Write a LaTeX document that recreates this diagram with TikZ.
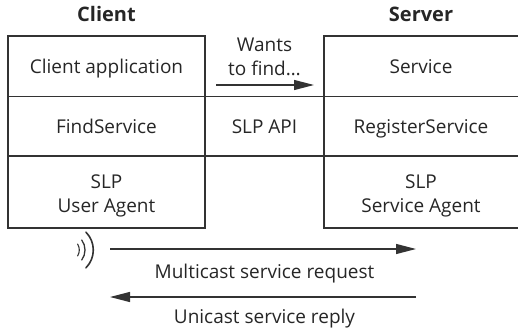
\documentclass[tikz,border=0pt]{standalone}
\usepackage{fontspec}
\setmainfont{Open Sans}
\usetikzlibrary{arrows.meta}
\definecolor{ink}{HTML}{262626}
\definecolor{rule}{HTML}{333333}
\begin{document}
\begin{tikzpicture}[x=1pt,y=-1pt,
    lbl/.style={inner sep=0pt,anchor=base,text=ink,font=\fontsize{19}{23}\selectfont},
    head/.style={inner sep=0pt,anchor=base,text=ink,font=\fontsize{20}{24}\selectfont\bfseries},
    grid/.style={draw=rule,line width=1.2pt},
    msg/.style={draw=rule,line width=1.2pt,-{Triangle[length=20pt,width=10pt]}},
    wave/.style={draw=rule,line cap=round}]
  \useasboundingbox (0,0) rectangle (518,334);

  % column headings
  \node[head] (hcl) at (106.5,22) {Client};
  \node[head] (hsv) at (421,22) {Server};

  % protocol stack grid (server side runs off to the right)
  \draw[grid] (8,36) rectangle (205,228);
  \draw[grid] (518,36) -- (324,36) -- (324,228) -- (518,228);
  \draw[grid] (8,96.5) -- (518,96.5);
  \draw[grid] (8,156) -- (518,156);

  % client column
  \node[lbl] (capp) at (106.5,74) {Client application};
  \node[lbl] (find) at (106.5,133) {FindService};
  \node[lbl] (ua1)  at (106.5,188) {SLP};
  \node[lbl] (ua2)  at (106.5,212) {User Agent};

  % middle column
  \node[lbl] (w1)  at (264.5,52) {Wants};
  \node[lbl] (w2)  at (264.5,76) {to find\ldots};
  \node[lbl] (api) at (264.5,133) {SLP API};

  % server column
  \node[lbl] (svc) at (421,74) {Service};
  \node[lbl] (reg) at (421,133) {RegisterService};
  \node[lbl] (sa1) at (421,188) {SLP};
  \node[lbl] (sa2) at (421,212) {Service Agent};

  % "wants to find" arrow
  \coordinate (wa) at (216,85);
  \coordinate (wb) at (314,85);
  \draw[msg] (wa) -- (wb);

  % broadcast symbol
  \coordinate (wv) at (68,250);
  \draw[wave,line width=1.1pt] (wv) ++(32:11.3pt) arc[start angle=32,end angle=-32,radius=11.3pt];
  \draw[wave,line width=1.3pt] (wv) ++(36:17pt) arc[start angle=36,end angle=-36,radius=17pt];
  \draw[wave,line width=1.6pt] (wv) ++(45:25.3pt) arc[start angle=45,end angle=-45,radius=25.3pt];

  % network messages
  \coordinate (mL) at (110,249);
  \coordinate (mR) at (416,249);
  \coordinate (uL) at (110,297);
  \coordinate (uR) at (416,297);
  \draw[msg] (mL) -- (mR);
  \node[lbl] (mreq) at (264.5,278) {Multicast service request};
  \draw[msg] (uR) -- (uL);
  \node[lbl] (urep) at (264.5,323) {Unicast service reply};
\end{tikzpicture}
\end{document}
